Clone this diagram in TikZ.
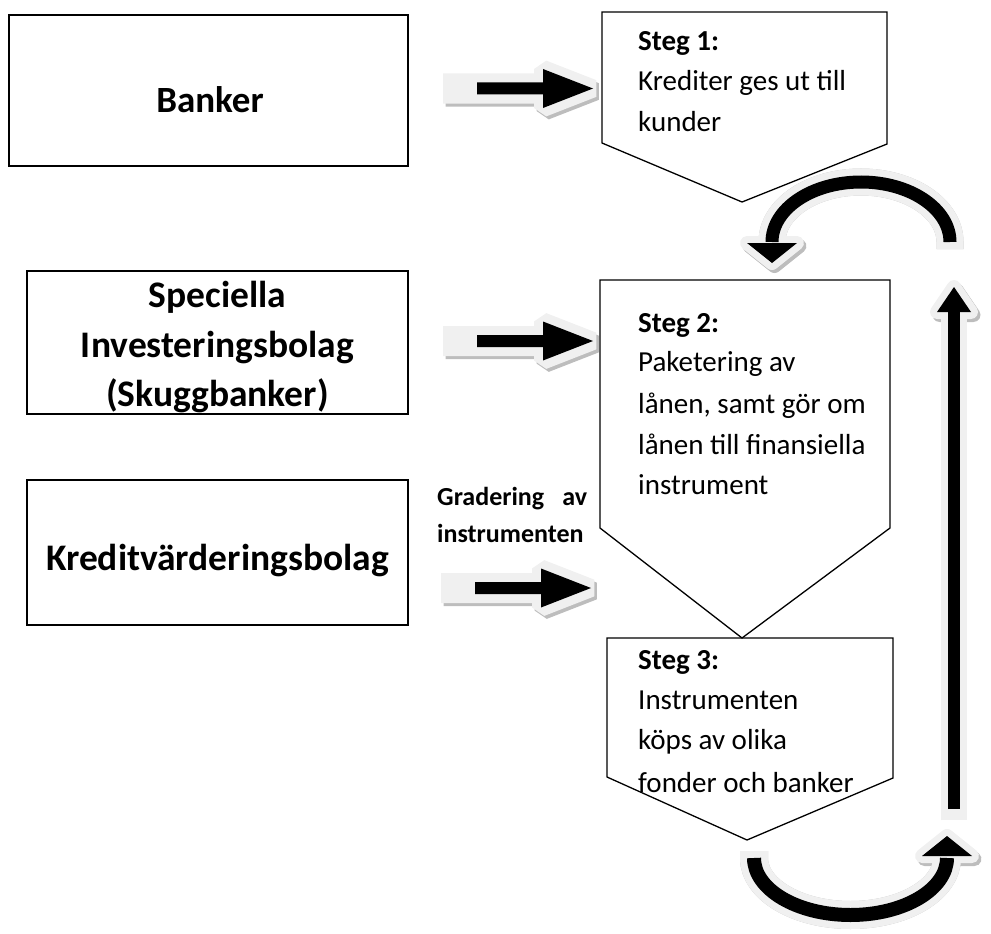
\documentclass[tikz,border=0pt]{standalone}
\usepackage{fontspec}
\setmainfont{Carlito}
\definecolor{olgray}{HTML}{F0F0F0}
\definecolor{shgray}{HTML}{BDBDBD}
\tikzset{
  box/.style={draw=black, line width=1.3pt, inner sep=0pt},
  biglabel/.style={font=\fontsize{37.5}{50}\selectfont\bfseries, inner sep=0pt, anchor=base},
  steptxt/.style={font=\fontsize{29}{35}\selectfont, anchor=base west, inner sep=0pt},
  stepbold/.style={font=\fontsize{29}{35}\selectfont\bfseries, anchor=base west, inner sep=0pt},
  gradtxt/.style={font=\fontsize{26}{32}\selectfont\bfseries, anchor=base west, inner sep=0pt},
  pent/.style={draw=black, line width=1.3pt, line join=miter},
  fatarrow/.pic={
    \filldraw[shgray, line width=18pt, line join=miter, miter limit=1.5, shift={(2.5,3)}]
      (-141,-6) -- (-50,-6) -- (-50,-19.5) -- (0,0) -- (-50,19.5) -- (-50,6) -- (-141,6) -- cycle;
    \filldraw[olgray, line width=18pt, line join=miter, miter limit=1.5]
      (-141,-6) -- (-50,-6) -- (-50,-19.5) -- (0,0) -- (-50,19.5) -- (-50,6) -- (-141,6) -- cycle;
    \fill[black]
      (-116,-6) -- (-50,-6) -- (-50,-19.5) -- (0,0) -- (-50,19.5) -- (-50,6) -- (-116,6) -- cycle;
  }
}
\begin{document}
\begin{tikzpicture}[x=1pt,y=-1pt]
\useasboundingbox (0,0) rectangle (991,934);

% left boxes
\node[box, minimum width=399pt, minimum height=151pt] (banker) at (208.5,90.5) {};
\node[biglabel, font=\fontsize{37}{50}\selectfont\bfseries] (bankerT) at (210,113) {Banker};

\node[box, minimum width=381pt, minimum height=143pt] (siv) at (217.5,342.5) {};
\node[biglabel] (siv1) at (217.5,307) {Speciella};
\node[biglabel] (siv2) at (217.5,357) {Investeringsbolag};
\node[biglabel] (siv3) at (217.5,406) {(Skuggbanker)};

\node[box, minimum width=381pt, minimum height=145pt] (kv) at (217.5,552.5) {};
\node[biglabel] (kvT) at (217.5,570) {Kreditvärderingsbolag};

% grading label
\node[gradtxt] (grad1) at (437,505) {\makebox[150pt][s]{Gradering av}};
\node[gradtxt] (grad2) at (437,542) {instrumenten};

% straight striped arrows
\coordinate (a1) at (593,88.5);
\coordinate (a2) at (593,341);
\coordinate (a3) at (591,588);
\pic at (a1) {fatarrow};
\pic at (a2) {fatarrow};
\pic at (a3) {fatarrow};

% step pentagons
\draw[pent] (602,12) coordinate (s1tl) -- (887,12) -- (887,144) -- (742,202) coordinate (s1p) -- (602,143) -- cycle;
\draw[pent] (600,280) coordinate (s2tl) -- (890,280) -- (890,528) -- (742,638) coordinate (s2p) -- (600,528) -- cycle;
\draw[pent] (607,638) coordinate (s3tl) -- (893,638) -- (893,778) -- (747,840) coordinate (s3p) -- (607,777) -- cycle;

% step texts
\node[stepbold] (t11) at (638,51) {Steg 1:};
\node[steptxt] (t12) at (638,91) {Krediter ges ut till};
\node[steptxt] (t13) at (638,131) {kunder};

\node[stepbold] (t21) at (638,332) {Steg 2:};
\node[steptxt] (t22) at (638,371) {Paketering av};
\node[steptxt] (t23) at (638,413) {lånen, samt gör om};
\node[steptxt] (t24) at (638,454) {lånen till finansiella};
\node[steptxt] (t25) at (638,494) {instrument};

\node[stepbold] (t31) at (638,669) {Steg 3:};
\node[steptxt] (t32) at (638,709) {Instrumenten};
\node[steptxt] (t33) at (638,749) {köps av olika};
\node[steptxt] (t34) at (638,792) {fonder och banker};

% curved arrow top (step1 -> step2)
\coordinate (c1s) at (950,242);
\coordinate (c1o) at (950,249);
\begin{scope}[shift={(2.5,3)}]
  \draw[shgray, line width=27pt] (c1o) -- (c1s) arc[start angle=0, end angle=-180, x radius=89, y radius=60];
  \filldraw[shgray, line width=14pt, line join=round] (747,243) -- (797,243) -- (772,263) -- cycle;
\end{scope}
\draw[olgray, line width=27pt] (c1o) -- (c1s) arc[start angle=0, end angle=-180, x radius=89, y radius=60];
\filldraw[olgray, line width=14pt, line join=round] (747,243) -- (797,243) -- (772,263) -- cycle;
\draw[black, line width=13pt] (c1s) arc[start angle=0, end angle=-180, x radius=89, y radius=60];
\fill[black] (747,243) -- (797,243) -- (772,263) -- cycle;

% vertical arrow
\coordinate (vb) at (954,809);
\coordinate (vbo) at (954,820);
\coordinate (vh) at (954,312);
\begin{scope}[shift={(2.5,3)}]
  \draw[shgray, line width=26pt] (vbo) -- (vh);
  \filldraw[shgray, line width=14pt, line join=round] (937,312) -- (971,312) -- (954,287) -- cycle;
\end{scope}
\draw[olgray, line width=26pt] (vbo) -- (vh);
\filldraw[olgray, line width=14pt, line join=round] (937,312) -- (971,312) -- (954,287) -- cycle;
\draw[black, line width=12pt] (vb) -- (vh);
\fill[black] (937,312) -- (971,312) -- (954,287) -- cycle;

% curved arrow bottom (step3 -> vertical)
\coordinate (c2s) at (754,858);
\coordinate (c2o) at (754,851);
\begin{scope}[shift={(2.5,3)}]
  \draw[shgray, line width=28pt] (c2o) -- (c2s) arc[start angle=180, end angle=0, x radius=96.5, y radius=57];
  \filldraw[shgray, line width=14pt, line join=round] (922,856) -- (972,856) -- (947,836) -- cycle;
\end{scope}
\draw[olgray, line width=28pt] (c2o) -- (c2s) arc[start angle=180, end angle=0, x radius=96.5, y radius=57];
\filldraw[olgray, line width=14pt, line join=round] (922,856) -- (972,856) -- (947,836) -- cycle;
\draw[black, line width=14pt] (c2s) arc[start angle=180, end angle=0, x radius=96.5, y radius=57];
\fill[black] (922,856) -- (972,856) -- (947,836) -- cycle;
\end{tikzpicture}
\end{document}
